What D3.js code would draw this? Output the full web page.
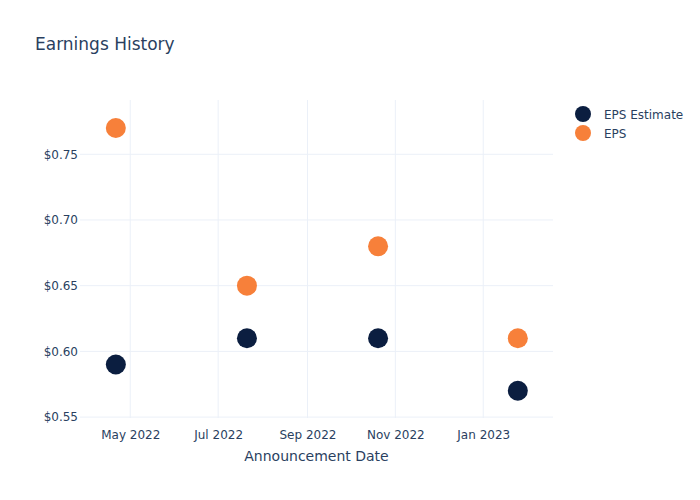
<!DOCTYPE html>
<html>
<head>
<meta charset="utf-8">
<script src="https://cdn.jsdelivr.net/npm/d3@7"></script>
<style>
  html, body { margin: 0; padding: 0; background: #fff; }
  svg { display: block; font-family: "DejaVu Sans", Verdana, sans-serif; }
</style>
</head>
<body>
<svg id="chart" width="700" height="500"></svg>
<script>
// ---- data ----
const dates = ["2022-04-21", "2022-07-21", "2022-10-20", "2023-01-25"];
const epsEstimate = [0.59, 0.61, 0.61, 0.57];
const eps = [0.77, 0.65, 0.68, 0.61];
const seriesNames = ["EPS Estimate", "EPS"];
const xTickDates = ["2022-05-01", "2022-07-01", "2022-09-01", "2022-11-01", "2023-01-01"];
const yTickValues = [0.55, 0.60, 0.65, 0.70, 0.75];
const xDomainDates = ["2022-03-27T03:00", "2023-02-18T10:00"];
const yDomain = [0.5493, 0.7913];

// ---- layout ----
const W = 700, H = 500;
const margin = { top: 100, right: 147, bottom: 82, left: 80 };
const textColor = "#2a3f5f";
const gridColor = "#ebf0f8";
const colors = ["#0b1e40", "#f7803a"];

const parse = d3.utcParse("%Y-%m-%d");
const parseT = d3.utcParse("%Y-%m-%dT%H:%M");

const svg = d3.select("#chart");
const x = d3.scaleUtc()
  .domain(xDomainDates.map(parseT))
  .range([margin.left, W - margin.right]);
const y = d3.scaleLinear()
  .domain(yDomain)
  .range([H - margin.bottom, margin.top]);

// grid
const gx = svg.append("g");
gx.selectAll("line.vx").data(xTickDates.map(parse)).join("line")
  .attr("x1", d => x(d)).attr("x2", d => x(d))
  .attr("y1", margin.top).attr("y2", H - margin.bottom)
  .attr("stroke", gridColor).attr("stroke-width", 1);
gx.selectAll("line.hy").data(yTickValues).join("line")
  .attr("x1", margin.left).attr("x2", W - margin.right)
  .attr("y1", d => y(d)).attr("y2", d => y(d))
  .attr("stroke", gridColor).attr("stroke-width", 1);

// axes
const fmtY = d => "$" + d3.format(".2f")(d);
const xAxis = d3.axisBottom(x).tickValues(xTickDates.map(parse))
  .tickFormat(d3.utcFormat("%b %Y")).tickSize(0).tickPadding(12);
const yAxis = d3.axisLeft(y).tickValues(yTickValues)
  .tickFormat(fmtY).tickSize(0).tickPadding(2);

const axX = svg.append("g")
  .attr("transform", `translate(0,${H - margin.bottom})`).call(xAxis);
const axY = svg.append("g")
  .attr("transform", `translate(${margin.left},0)`).call(yAxis);
[axX, axY].forEach(a => {
  a.select(".domain").remove();
  a.selectAll("text").attr("fill", textColor).style("font-size", "12px")
    .style("font-family", '"DejaVu Sans", Verdana, sans-serif');
});

// points
const series = [epsEstimate, eps];
series.forEach((vals, i) => {
  svg.append("g").selectAll("circle")
    .data(vals.map((v, j) => ({ d: parse(dates[j]), v })))
    .join("circle")
    .attr("cx", p => x(p.d)).attr("cy", p => y(p.v))
    .attr("r", 10).attr("fill", colors[i]);
});

// title
svg.append("text").attr("x", 35).attr("y", 50)
  .attr("fill", textColor).style("font-size", "17px").text("Earnings History");

// x axis title
svg.append("text")
  .attr("x", (margin.left + W - margin.right) / 2).attr("y", 461)
  .attr("text-anchor", "middle").attr("fill", textColor)
  .style("font-size", "14px").text("Announcement Date");

// legend
const lg = svg.append("g");
seriesNames.forEach((name, i) => {
  const yy = 114 + i * 19;
  lg.append("circle").attr("cx", 583).attr("cy", yy).attr("r", 8).attr("fill", colors[i]);
  lg.append("text").attr("x", 604).attr("y", yy + 4.5)
    .attr("fill", textColor).style("font-size", "12px").text(name);
});
</script>
</body>
</html>
